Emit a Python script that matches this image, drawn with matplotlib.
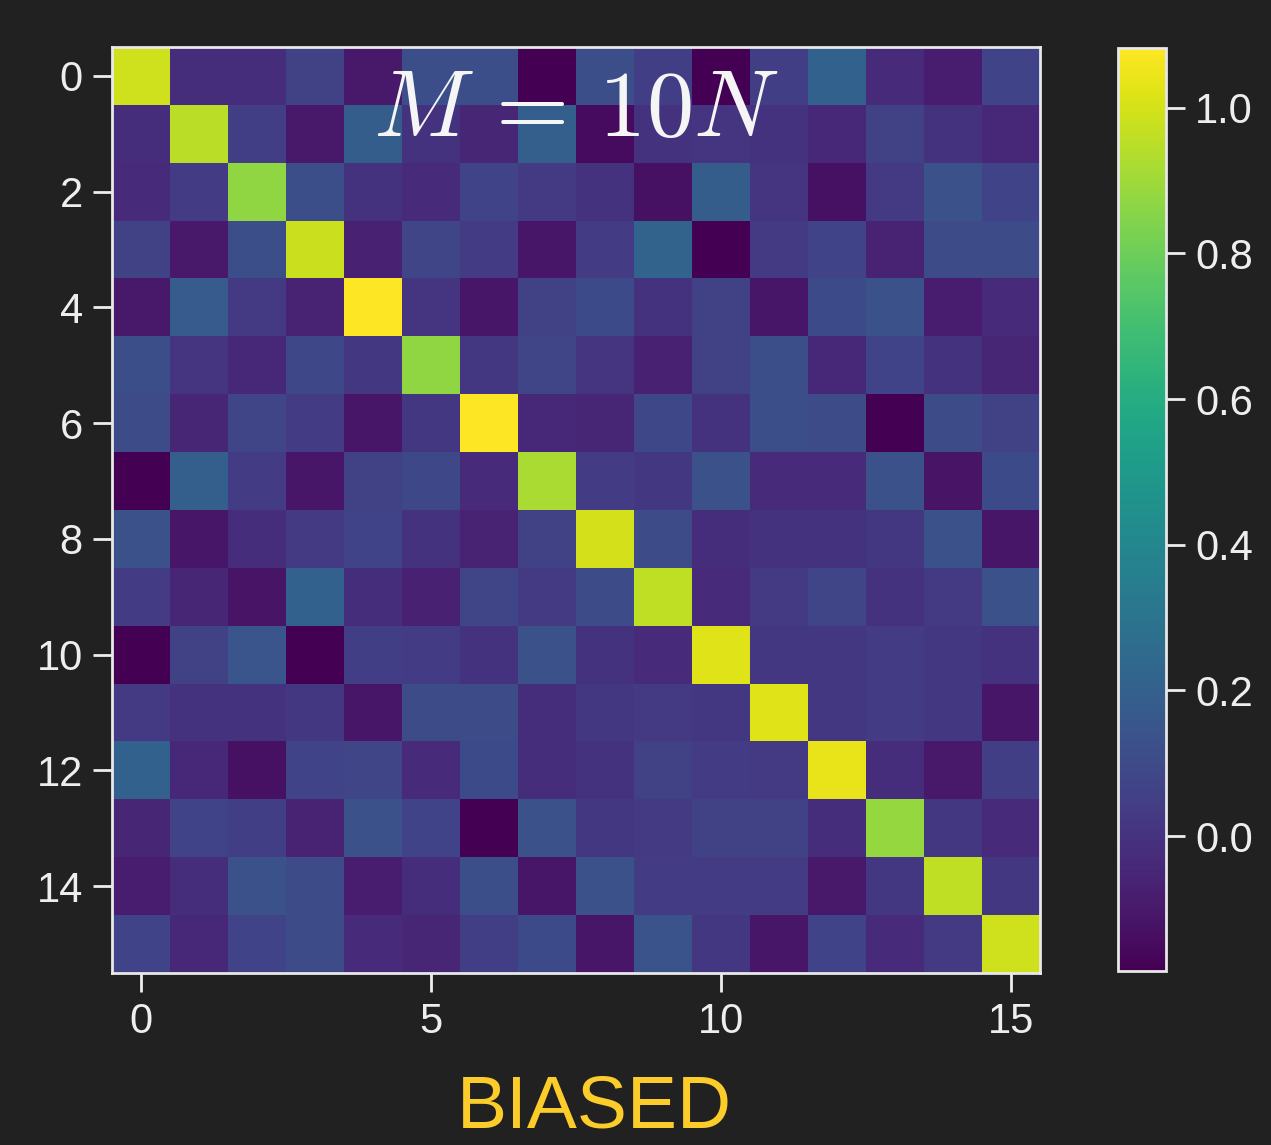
import numpy as np
import matplotlib
matplotlib.use("Agg")
import matplotlib.pyplot as plt

# correlation matrix (rows top to bottom)
row_00 = [0.99, -0.02, -0.02, 0.06, -0.10, 0.12, 0.12, -0.185, 0.12, 0.05, -0.185, 0.05, 0.21, -0.03, -0.09, 0.07]
row_01 = [-0.02, 0.95, 0.05, -0.10, 0.19, 0.00, -0.05, 0.20, -0.15, 0.00, 0.01, 0.00, -0.04, 0.06, 0.00, -0.04]
row_02 = [-0.03, 0.04, 0.87, 0.12, 0.00, -0.03, 0.07, 0.03, 0.00, -0.13, 0.19, 0.01, -0.13, 0.03, 0.13, 0.07]
row_03 = [0.06, -0.10, 0.12, 0.98, -0.07, 0.08, 0.04, -0.11, 0.04, 0.22, -0.185, 0.03, 0.07, -0.06, 0.11, 0.11]
row_04 = [-0.10, 0.18, 0.03, -0.06, 1.082, 0.01, -0.11, 0.06, 0.10, 0.00, 0.06, -0.11, 0.10, 0.13, -0.09, -0.03]
row_05 = [0.12, 0.01, -0.04, 0.09, 0.02, 0.87, 0.02, 0.08, 0.01, -0.07, 0.06, 0.12, -0.04, 0.07, 0.00, -0.05]
row_06 = [0.11, -0.05, 0.08, 0.04, -0.11, 0.02, 1.08, -0.04, -0.05, 0.09, 0.00, 0.12, 0.11, -0.185, 0.11, 0.06]
row_07 = [-0.185, 0.20, 0.04, -0.11, 0.06, 0.09, -0.03, 0.92, 0.04, 0.02, 0.13, -0.03, -0.03, 0.13, -0.12, 0.10]
row_08 = [0.13, -0.11, -0.02, 0.03, 0.07, 0.00, -0.06, 0.06, 1.00, 0.11, -0.02, 0.00, 0.00, 0.02, 0.13, -0.11]
row_09 = [0.04, -0.05, -0.12, 0.21, -0.02, -0.07, 0.08, 0.03, 0.11, 0.96, -0.03, 0.03, 0.08, 0.00, 0.03, 0.13]
row_10 = [-0.185, 0.06, 0.15, -0.185, 0.05, 0.04, 0.00, 0.13, 0.00, -0.03, 1.02, 0.02, 0.02, 0.04, 0.02, 0.00]
row_11 = [0.03, 0.00, 0.00, 0.02, -0.11, 0.11, 0.11, -0.02, 0.02, 0.03, 0.02, 1.02, 0.02, 0.04, 0.02, -0.11]
row_12 = [0.21, -0.04, -0.13, 0.07, 0.08, -0.03, 0.10, -0.02, 0.00, 0.06, 0.04, 0.03, 1.04, -0.02, -0.10, 0.05]
row_13 = [-0.05, 0.07, 0.05, -0.06, 0.13, 0.07, -0.185, 0.13, 0.02, 0.03, 0.06, 0.06, -0.02, 0.88, 0.02, -0.03]
row_14 = [-0.09, -0.02, 0.13, 0.11, -0.09, -0.02, 0.12, -0.11, 0.13, 0.04, 0.04, 0.04, -0.10, 0.02, 0.96, 0.02]
row_15 = [0.07, -0.04, 0.07, 0.11, -0.03, -0.05, 0.05, 0.10, -0.11, 0.14, 0.02, -0.11, 0.07, -0.03, 0.03, 0.99]

x_ticks = [0, 5, 10, 15]
y_ticks = [0, 2, 4, 6, 8, 10, 12, 14]
cbar_ticks = [0.0, 0.2, 0.4, 0.6, 0.8, 1.0]
title_text = r"$M\,=\,10N$"
note_text = "BIASED"

BG = "#212121"
FG = "#eeeeee"

plt.rcParams["mathtext.fontset"] = "cm"
plt.rcParams["font.family"] = ["Liberation Sans", "DejaVu Sans"]

mat = np.array([row_00, row_01, row_02, row_03, row_04, row_05, row_06, row_07,
                row_08, row_09, row_10, row_11, row_12, row_13, row_14, row_15])

fig = plt.figure(figsize=(12.71, 11.45), dpi=100, facecolor=BG)
ax = fig.add_axes([0.0881, 0.1502, 0.7301, 0.8087])
ax.set_facecolor(BG)
im = ax.imshow(mat, cmap="viridis", aspect="auto", interpolation="nearest")

ax.set_xticks(x_ticks)
ax.set_yticks(y_ticks)
ax.tick_params(colors=FG, labelsize=30, length=14, width=2, pad=7)
for sp in ax.spines.values():
    sp.set_color("#e8e8e8")
    sp.set_linewidth(2)

ax.text(0.5, 0.93, title_text, transform=ax.transAxes, ha="center", va="center",
        color="#f5f5f5", fontsize=68)

cax = fig.add_axes([0.8796, 0.1520, 0.0378, 0.8061])
cb = fig.colorbar(im, cax=cax, ticks=cbar_ticks)
cb.ax.tick_params(colors=FG, labelsize=30, length=14, width=2, pad=7)
cb.outline.set_edgecolor("#e8e8e8")
cb.outline.set_linewidth(2)
cb.ax.set_yticklabels([f"{t:.1f}" for t in cbar_ticks])

fig.text(0.468, 0.032, note_text, color="#fccc2a", fontsize=54, ha="center",
         va="center")

fig.savefig("out.png", dpi=100, facecolor=BG)
